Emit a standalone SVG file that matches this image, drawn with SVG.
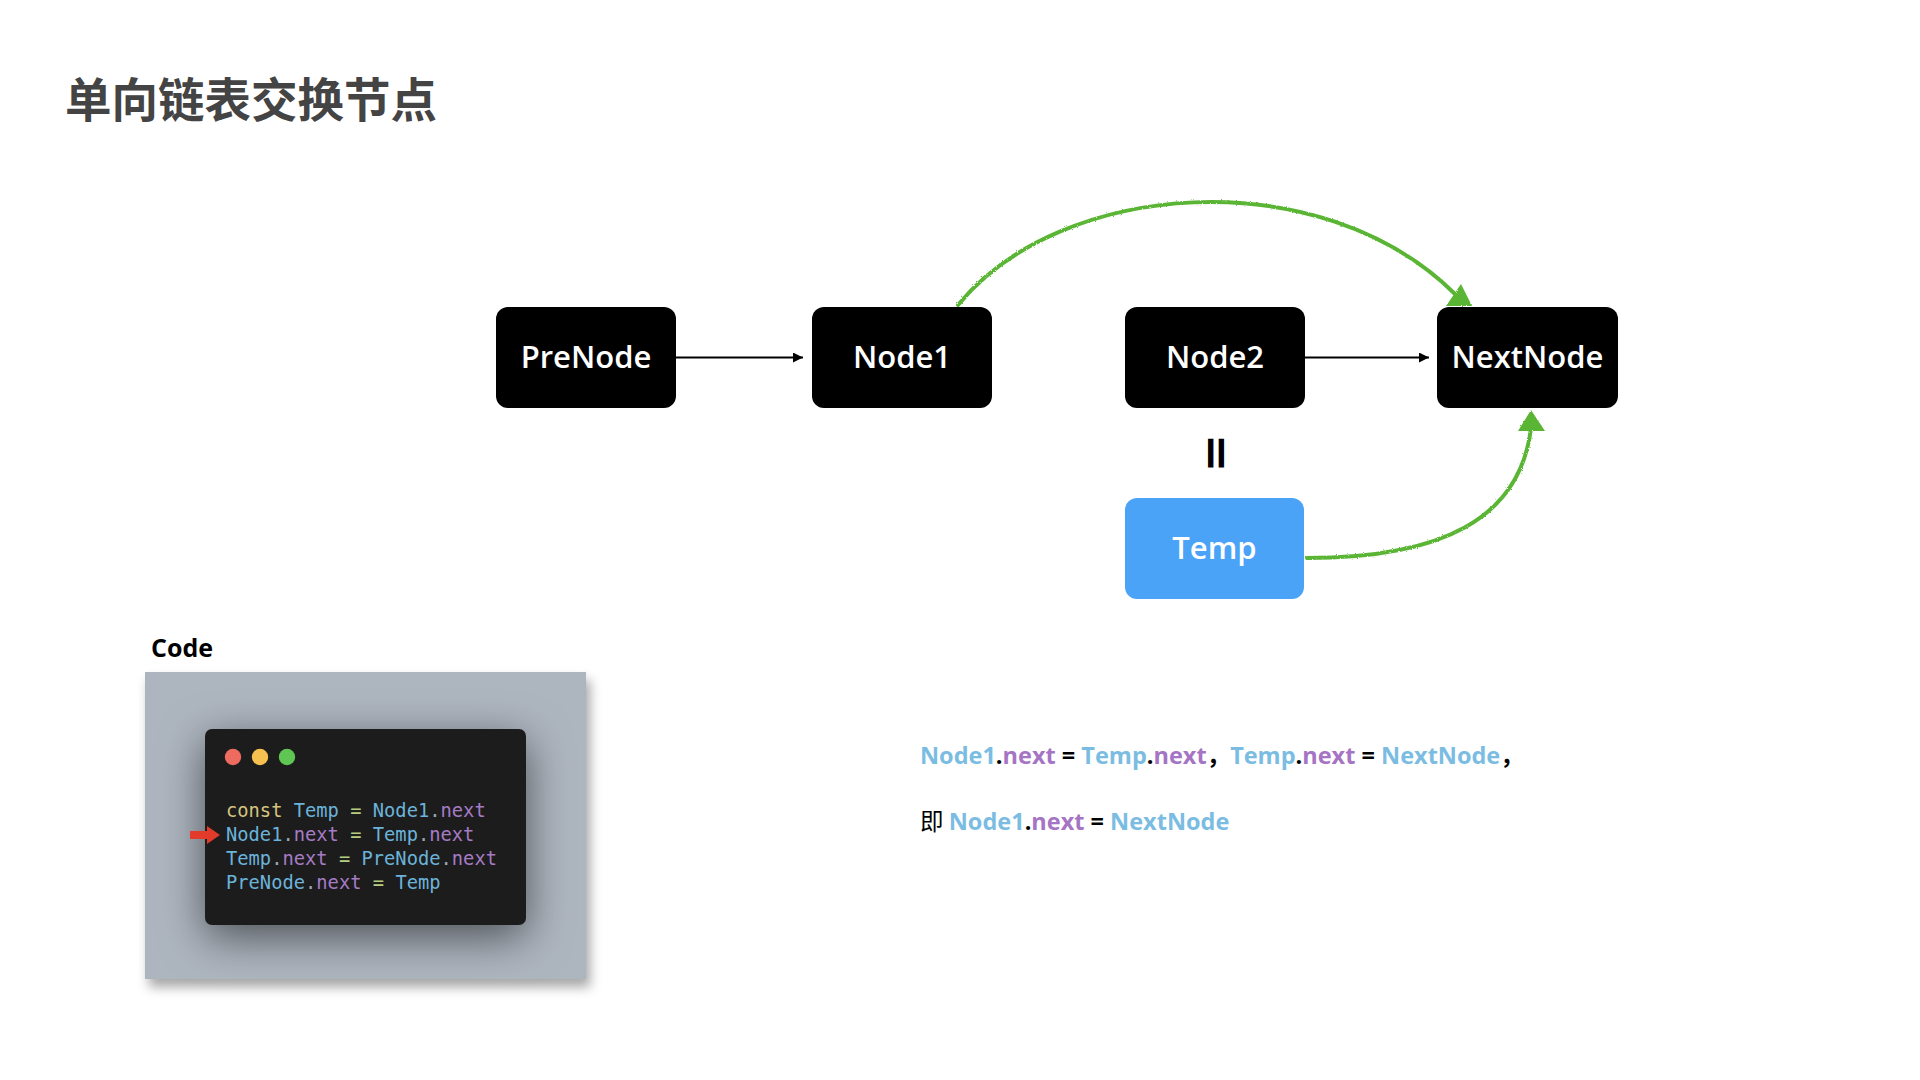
<svg xmlns="http://www.w3.org/2000/svg" width="1920" height="1080" viewBox="0 0 1920 1080">
  <defs>
    <style>
      .node rect { stroke: none; }
      .lbl { font-family: "Open Sans", "Liberation Sans", sans-serif; font-weight: 600; font-size: 31px; fill: #ffffff; text-anchor: middle; }
      .code { font-family: "DejaVu Sans Mono", "Liberation Mono", monospace; font-size: 18.75px; }
      .kw { fill: #d6c47e; }
      .id { fill: #6bb3da; }
      .pr { fill: #a67bc6; }
      .op { fill: #b4cf80; }
      .dt { fill: #9aa6b0; }
      .f { font-family: "Open Sans", "Liberation Sans", "Noto Sans CJK SC", sans-serif; font-weight: 700; font-size: 23.5px; }
      .fb { fill: #7bbde2; }
      .fp { fill: #a574c4; }
      .fk { fill: #000000; }
      .green { fill: none; stroke: #5ab535; stroke-width: 4; stroke-linecap: round; }
      .garrow { fill: #5ab535; }
      .blk { stroke: #000; stroke-width: 2; fill: none; }
    </style>
    <marker id="ah" viewBox="0 0 10 10" refX="10" refY="5" markerWidth="5" markerHeight="5" orient="auto" markerUnits="strokeWidth">
      <path d="M0,0 L10,5 L0,10 z" fill="#000"/>
    </marker>
    <filter id="panelShadow" x="-20%" y="-20%" width="140%" height="150%">
      <feDropShadow dx="4" dy="8" stdDeviation="6" flood-color="#000" flood-opacity="0.35"/>
    </filter>
    <filter id="winShadow" x="-40%" y="-50%" width="180%" height="200%">
      <feDropShadow dx="0" dy="12" stdDeviation="22" flood-color="#000" flood-opacity="0.55"/>
    </filter>
    <filter id="rough" x="-5%" y="-5%" width="110%" height="110%">
      <feTurbulence type="fractalNoise" baseFrequency="0.8" numOctaves="2" result="n"/>
      <feDisplacementMap in="SourceGraphic" in2="n" scale="2.5"/>
    </filter>
  </defs>
  <rect width="1920" height="1080" fill="#ffffff"/>

  <text x="65" y="117" font-family="Noto Sans CJK SC, sans-serif" font-weight="700" font-size="46.5" fill="#444444">单向链表交换节点</text>

  <g id="connectors">
    <line class="blk" x1="676" y1="357.5" x2="803" y2="357.5" marker-end="url(#ah)"/>
    <line class="blk" x1="1305" y1="357.5" x2="1429" y2="357.5" marker-end="url(#ah)"/>
    <g filter="url(#rough)">
      <path class="green" d="M958,305 C1060,180 1320,160 1455,294"/>
      <polygon class="garrow" points="1461,284 1446,306 1472,306"/>
      <path class="green" d="M1307,558 C1440,558 1520,520 1531,428"/>
      <polygon class="garrow" points="1531,410 1518,431 1545,431"/>
    </g>
  </g>

  <g id="PreNode" class="node">
    <rect x="496" y="307" width="180" height="101" rx="12"/>
    <text class="lbl" x="586" y="368">PreNode</text>
  </g>
  <g id="Node1" class="node">
    <rect x="812" y="307" width="180" height="101" rx="12"/>
    <text class="lbl" x="902" y="368">Node1</text>
  </g>
  <g id="Node2" class="node">
    <rect x="1125" y="307" width="180" height="101" rx="12"/>
    <text class="lbl" x="1215" y="368">Node2</text>
  </g>
  <g id="NextNode" class="node">
    <rect x="1437" y="307" width="181" height="101" rx="12"/>
    <text class="lbl" x="1527.5" y="368">NextNode</text>
  </g>
  <g id="Temp" class="node">
    <rect x="1125" y="498" width="179" height="101" rx="12" fill="#4ba3f8"/>
    <text class="lbl" x="1214.5" y="559">Temp</text>
  </g>

  <text x="0" y="0" transform="translate(1217,453) rotate(90)" font-family="DejaVu Sans, sans-serif" font-weight="700" font-size="46" text-anchor="middle" dominant-baseline="central" fill="#000">=</text>

  <text x="151" y="657" font-family="Open Sans, Liberation Sans, sans-serif" font-weight="700" font-size="25" fill="#000">Code</text>

  <g id="code-panel">
    <rect x="145" y="672" width="441" height="307" fill="#adb5bf" filter="url(#panelShadow)"/>
    <rect x="205" y="729" width="321" height="196" rx="7" fill="#1c1d1f" filter="url(#winShadow)"/>
    <circle cx="233" cy="757" r="8.2" fill="#ee6b60"/>
    <circle cx="260" cy="757" r="8.2" fill="#f6c14f"/>
    <circle cx="287" cy="757" r="8.2" fill="#5fc653"/>
    <text class="code" x="226" y="817"><tspan class="kw">const</tspan> <tspan class="id">Temp</tspan> <tspan class="op">=</tspan> <tspan class="id">Node1</tspan><tspan class="dt">.</tspan><tspan class="pr">next</tspan></text>
    <text class="code" x="226" y="841"><tspan class="id">Node1</tspan><tspan class="dt">.</tspan><tspan class="pr">next</tspan> <tspan class="op">=</tspan> <tspan class="id">Temp</tspan><tspan class="dt">.</tspan><tspan class="pr">next</tspan></text>
    <text class="code" x="226" y="865"><tspan class="id">Temp</tspan><tspan class="dt">.</tspan><tspan class="pr">next</tspan> <tspan class="op">=</tspan> <tspan class="id">PreNode</tspan><tspan class="dt">.</tspan><tspan class="pr">next</tspan></text>
    <text class="code" x="226" y="889"><tspan class="id">PreNode</tspan><tspan class="dt">.</tspan><tspan class="pr">next</tspan> <tspan class="op">=</tspan> <tspan class="id">Temp</tspan></text>
    <polygon points="190,831 207,831 207,826 220,835 207,844 207,839 190,839" fill="#e23b2c"/>
  </g>

  <text class="f" x="920" y="764"><tspan class="fb">Node1</tspan><tspan class="fk">.</tspan><tspan class="fp">next</tspan><tspan class="fk"> = </tspan><tspan class="fb">Temp</tspan><tspan class="fk">.</tspan><tspan class="fp">next</tspan><tspan class="fk">，</tspan><tspan class="fb">Temp</tspan><tspan class="fk">.</tspan><tspan class="fp">next</tspan><tspan class="fk"> = </tspan><tspan class="fb">NextNode</tspan><tspan class="fk">，</tspan></text>
  <text class="f" x="920" y="830"><tspan class="fk" font-family="Noto Sans CJK SC, sans-serif" font-weight="400">即 </tspan><tspan class="fb">Node1</tspan><tspan class="fk">.</tspan><tspan class="fp">next</tspan><tspan class="fk"> = </tspan><tspan class="fb">NextNode</tspan></text>
</svg>
